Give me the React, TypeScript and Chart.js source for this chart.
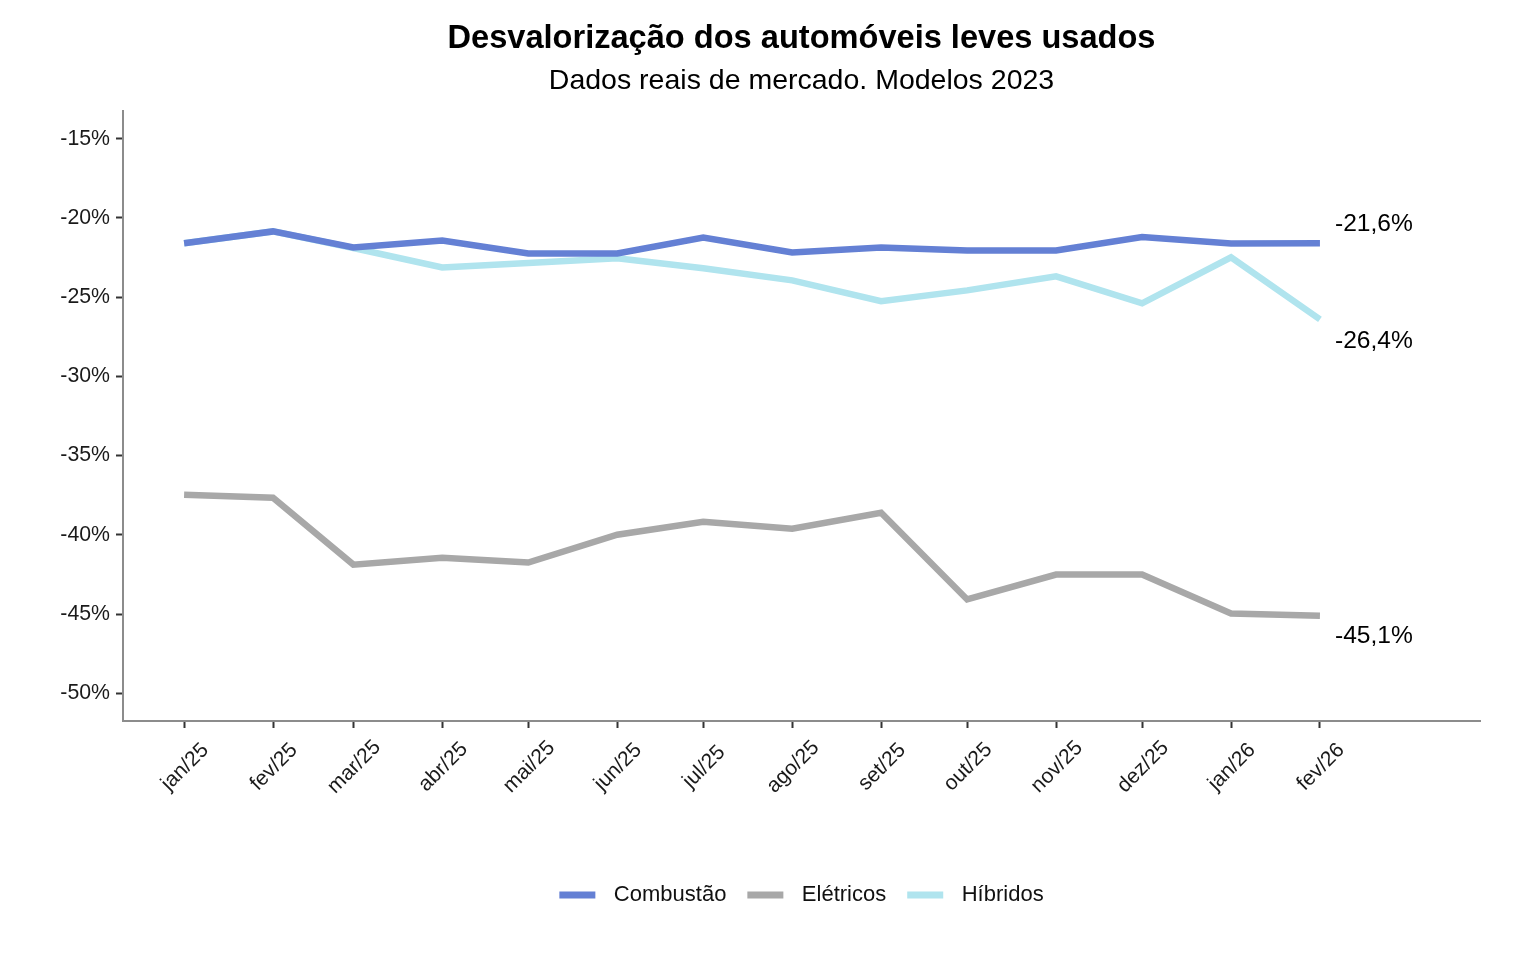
import React, { useEffect, useRef } from "react";
import { Chart, registerables } from "chart.js";

Chart.register(...registerables);

const TITLE = "Desvalorização dos automóveis leves usados";
const SUBTITLE = "Dados reais de mercado. Modelos 2023";

// months as [year, monthIndex]
const monthYears = [2025, 2025, 2025, 2025, 2025, 2025, 2025, 2025, 2025, 2025, 2025, 2025, 2026, 2026];
const monthIndex = [0, 1, 2, 3, 4, 5, 6, 7, 8, 9, 10, 11, 0, 1];
const categories = ["jan/25", "fev/25", "mar/25", "abr/25", "mai/25", "jun/25", "jul/25", "ago/25", "set/25", "out/25", "nov/25", "dez/25", "jan/26", "fev/26"];

const seriesNames = ["Combustão", "Elétricos", "Híbridos"];
const seriesColors = ["#6480d4", "#a8a8a8", "#b0e4ee"];

const combustao = [-21.6, -20.85, -21.86, -21.42, -22.24, -22.24, -21.23, -22.18, -21.86, -22.05, -22.05, -21.2, -21.61, -21.6];
const eletricos = [-37.47, -37.66, -41.88, -41.44, -41.75, -39.99, -39.17, -39.61, -38.61, -44.08, -42.51, -42.51, -44.96, -45.1];
const hibridos = [-21.6, -20.85, -21.9, -23.12, -22.84, -22.55, -23.18, -23.94, -25.26, -24.57, -23.69, -25.39, -22.49, -26.4];

const yTicks = [-50, -45, -40, -35, -30, -25, -20, -15];

const FONT = "'Liberation Sans', Arial, sans-serif";

const DAY = 86400000;
const base = Date.UTC(monthYears[0], monthIndex[0], 1);
const xDays = monthYears.map((y, i) => (Date.UTC(y, monthIndex[i], 1) - base) / DAY);

export default function App() {
  const ref = useRef<HTMLCanvasElement | null>(null);

  useEffect(() => {
    const canvas = ref.current;
    if (!canvas) return;
    const allSeries = [combustao, eletricos, hibridos];
    const labelOffsets = [-19, 21, 22];

    const decor = {
      id: "decor",
      afterDraw(chart: any) {
        const ctx = chart.ctx;
        const area = chart.chartArea;
        const xs = chart.scales.x;
        const ys = chart.scales.y;
        const cx = (area.left + area.right) / 2;
        ctx.save();
        // titles
        ctx.fillStyle = "#000";
        ctx.textAlign = "center";
        ctx.textBaseline = "middle";
        ctx.font = `bold 32.6px ${FONT}`;
        ctx.fillText(TITLE, cx, 39);
        ctx.font = `28.5px ${FONT}`;
        ctx.fillText(SUBTITLE, cx, 81);

        // x tick labels rotated
        ctx.font = `21px ${FONT}`;
        ctx.fillStyle = "#1a1a1a";
        categories.forEach((c, i) => {
          const px = xs.getPixelForValue(xDays[i]);
          ctx.save();
          ctx.translate(px + 1, 767);
          ctx.rotate(-Math.PI / 4);
          ctx.textAlign = "center";
          ctx.textBaseline = "middle";
          ctx.fillText(c, 0, 0);
          ctx.restore();
        });

        // end labels
        ctx.font = `24.6px ${FONT}`;
        ctx.fillStyle = "#000";
        ctx.textAlign = "left";
        ctx.textBaseline = "middle";
        allSeries.forEach((s, k) => {
          const last = s.length - 1;
          const px = xs.getPixelForValue(xDays[last]);
          const py = ys.getPixelForValue(s[last]);
          const txt = s[last].toFixed(1).replace(".", ",") + "%";
          ctx.fillText(txt, px + 15, py + labelOffsets[k]);
        });

        // legend
        ctx.font = `22px ${FONT}`;
        const boxW = 36;
        const gapBoxText = 18.5;
        const gapItems = 21;
        const widths = seriesNames.map((n) => boxW + gapBoxText + ctx.measureText(n).width);
        const total = widths.reduce((a, b) => a + b, 0) + gapItems * (seriesNames.length - 1);
        let lx = cx - total / 2;
        const ly = 895;
        seriesNames.forEach((n, k) => {
          ctx.fillStyle = seriesColors[k];
          ctx.fillRect(lx, ly - 3.5, boxW, 7);
          ctx.fillStyle = "#111";
          ctx.textAlign = "left";
          ctx.fillText(n, lx + boxW + gapBoxText, ly);
          lx += widths[k] + gapItems;
        });
        ctx.restore();
      },
    };

    const chart = new Chart(canvas, {
      type: "line",
      data: {
        datasets: allSeries.map((s, k) => ({
          label: seriesNames[k],
          data: s.map((v, i) => ({ x: xDays[i], y: v })),
          borderColor: seriesColors[k],
          backgroundColor: seriesColors[k],
          borderWidth: 6.5,
          pointRadius: 0,
          tension: 0,
          borderCapStyle: "butt",
          borderJoinStyle: "miter",
        })),
      },
      options: {
        animation: false,
        responsive: false,
        devicePixelRatio: 1,
        layout: { padding: { top: 111, right: 56, bottom: 0, left: 0 } },
        plugins: {
          legend: { display: false },
          title: { display: false },
          tooltip: { enabled: false },
        },
        scales: {
          x: {
            type: "linear",
            min: -21.3,
            max: 451.8,
            afterBuildTicks: (scale: any) => {
              scale.ticks = xDays.map((d) => ({ value: d }));
            },
            afterFit: (scale: any) => {
              scale.height = 239;
            },
            ticks: { display: false },
            grid: {
              display: true,
              drawOnChartArea: false,
              drawTicks: true,
              tickLength: 7,
              tickColor: "#333",
              tickWidth: 2,
            },
            border: { display: true, color: "#8c8c8c", width: 2 },
          },
          y: {
            type: "linear",
            min: -51.75,
            max: -13.25,
            afterBuildTicks: (scale: any) => {
              scale.ticks = yTicks.map((v) => ({ value: v }));
            },
            afterFit: (scale: any) => {
              scale.width = 123;
            },
            ticks: {
              callback: (v: any) => `${v}%`,
              font: { family: FONT, size: 21.3 },
              color: "#1a1a1a",
              padding: 6,
            },
            grid: {
              display: true,
              drawOnChartArea: false,
              drawTicks: true,
              tickLength: 7,
              tickColor: "#333",
              tickWidth: 2,
            },
            border: { display: true, color: "#8c8c8c", width: 2 },
          },
        },
      },
      plugins: [decor],
    } as any);

    return () => chart.destroy();
  }, []);

  return (
    <div style={{ position: "fixed", left: 0, top: 0, width: 1536, height: 960, background: "#fff" }}>
      <canvas ref={ref} width={1536} height={960} style={{ width: 1536, height: 960 }} />
    </div>
  );
}
